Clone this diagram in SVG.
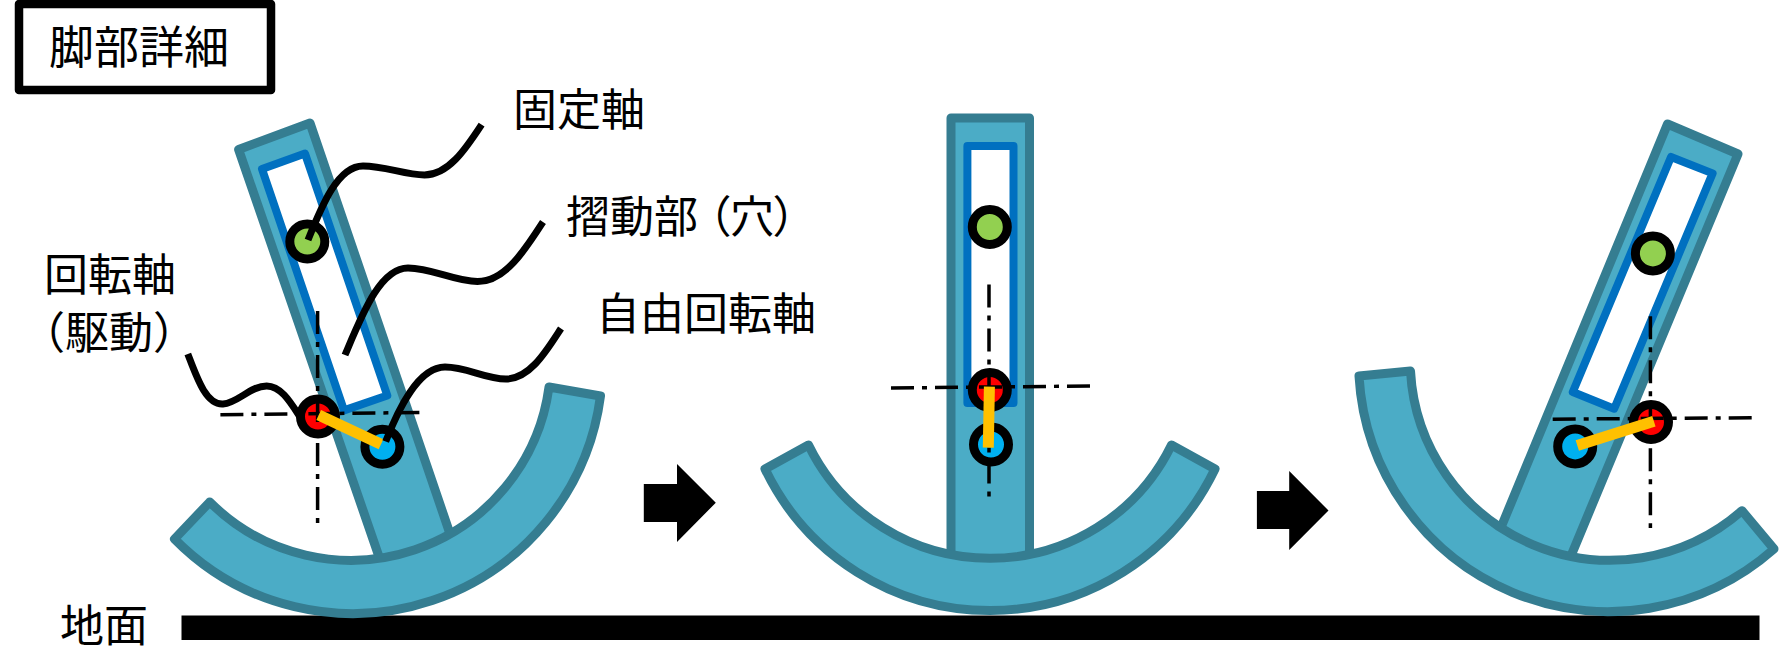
<svg xmlns="http://www.w3.org/2000/svg" width="1791" height="669" viewBox="0 0 1791 669">
<style>
text{font-family:"Noto Sans CJK JP","Noto Sans",sans-serif;font-size:44px;fill:#000}
.part{fill:#4BACC6;stroke:#357D91;stroke-width:9;stroke-linejoin:round}
.slot{fill:#fff;stroke:#0070C0;stroke-width:8;stroke-linejoin:round}
.pin{stroke:#000;stroke-width:9}
.g{fill:#92D050}.r{fill:#FF0000}.b{fill:#00B0F0}
.link{stroke:#FFC000;stroke-width:11;fill:none}
.center{stroke:#000;stroke-width:3.5;fill:none;stroke-dasharray:23 8 5 8}
.lead{stroke:#000;stroke-width:7;fill:none}
.palt{font-feature-settings:"palt"}
</style>
<rect width="1791" height="669" fill="#fff"/>
<g id="title"><rect x="19" y="4" width="252" height="86" fill="#fff" stroke="#000" stroke-width="8.5" stroke-linejoin="round"/><text x="49" y="64" style="font-size:45px">脚部詳細</text></g>
<g id="ground"><rect x="181.5" y="615.5" width="1578" height="24.5" fill="#000"/><text x="60" y="642">地面</text></g>
<g id="leg-left">
<path class="part" d="M238.6 149.5L310 123L453.9 545.2L383.5 569.7Z"/>
<path class="slot" d="M262 169L305 153.6L387.3 395.5L344 410.4Z"/>
<path class="part" d="M174.5 539A250 250 0 0 0 600.5 396L549 387A200 200 0 0 1 209.7 502Z"/>
<circle class="pin g" cx="307.3" cy="241.5" r="17.5"/><circle class="pin r" cx="318" cy="416.5" r="17.5"/><circle class="pin b" cx="382.4" cy="446.7" r="17.5"/>
<path class="center" d="M220.4 414.7L420.4 412.5M317.6 311V523"/>
<path class="link" d="M318.7 415L381 444.3"/>
</g>
<g id="leg-middle">
<rect class="part" x="951" y="118" width="78.5" height="452"/>
<rect class="slot" x="967.4" y="146" width="46.1" height="257"/>
<path class="part" d="M765 469A249.6 249.6 0 0 0 1215 469L1171.5 445A202 202 0 0 1 808.5 445Z"/>
<circle class="pin g" cx="989.8" cy="227" r="17.5"/><circle class="pin r" cx="989.8" cy="390" r="17.5"/><circle class="pin b" cx="991" cy="444.5" r="17.5"/>
<path class="center" d="M891 388L1091.6 386M989 284.5V497"/>
<path class="link" d="M989.4 386.6L988.3 447.6"/>
</g>
<g id="leg-right">
<path class="part" d="M1667.5 124L1738 154L1566.6 566.4L1497.3 536.4Z"/>
<path class="slot" d="M1671 157L1712.6 173.4L1614.2 408.7L1572.8 392Z"/>
<path class="part" d="M1359 376A250 250 0 0 0 1774 549L1742 510.7A200 200 0 0 1 1410.5 371Z"/>
<circle class="pin g" cx="1652.9" cy="253.4" r="17.5"/><circle class="pin r" cx="1651" cy="422" r="17.5"/><circle class="pin b" cx="1575.2" cy="446.4" r="17.5"/>
<path class="center" d="M1552.7 419.2L1753.7 417.7M1650.4 316.3V528"/>
<path class="link" d="M1653.9 421.2L1577.3 445.6"/>
</g>
<g id="arrow-1"><path d="M643.8 484H677V464L715.8 502.7L677 542V522H643.8Z" fill="#000"/></g>
<g id="arrow-2"><path d="M1256.9 491H1289.2V471L1328.5 510.5L1289.2 550V529H1256.9Z" fill="#000"/></g>
<g id="connectors">
<path class="lead" d="M308 240C322 205 338 166 363 166C385 166 405 175 424.5 175C448 175 465 150 481.6 124.6"/>
<path class="lead" d="M345 355C362 315 380 268 408 268C432 268 455 281.6 477.5 281.6C505 281.6 525 250 543 222"/>
<path class="lead" d="M385.7 441.5C398 410 418 367 445 367C467 367 485 379 506 379C530 379 547 350 561 328.5"/>
<path class="lead" d="M187.8 354C197 378 206 405 223 404C238 403 250 386 266.7 386C282 386 292 405 302 420"/>
</g>
<g id="label-fixed"><text x="513" y="126">固定軸</text></g>
<g id="label-slide"><text x="566" y="233">摺動部<tspan class="palt" dx="10">（</tspan>穴<tspan class="palt">）</tspan></text></g>
<g id="label-free"><text x="596" y="330">自由回転軸</text></g>
<g id="label-drive"><text x="44" y="291">回転軸</text><text x="21" y="349">（駆動）</text></g>
</svg>
